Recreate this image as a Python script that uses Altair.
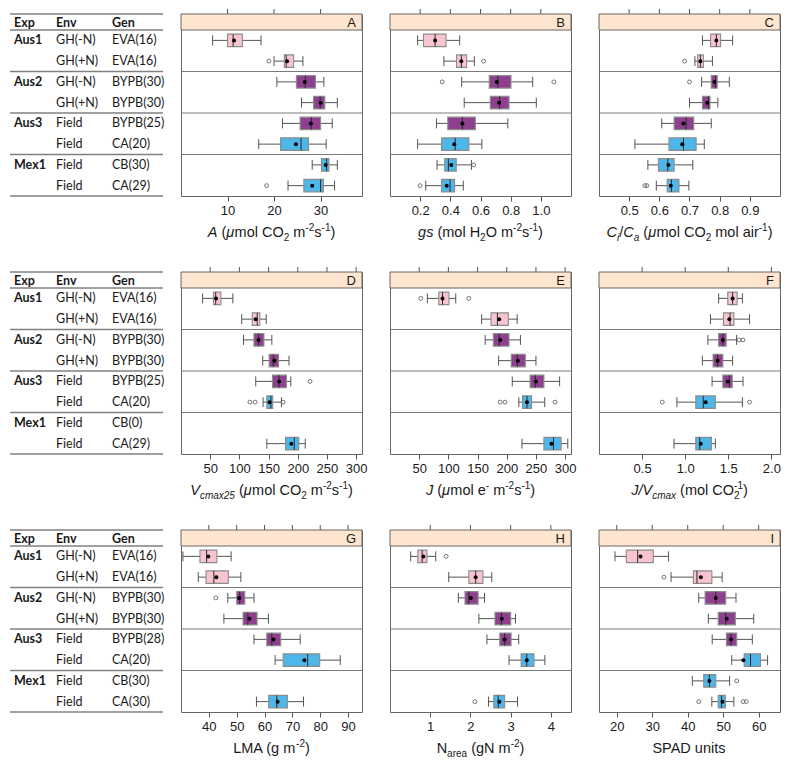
import altair as alt
import pandas as pd

# ---------------- data ----------------
EXP = ["Aus1", "", "Aus2", "", "Aus3", "", "Mex1", ""]
ENV = ["GH(-N)", "GH(+N)", "GH(-N)", "GH(+N)", "Field", "Field", "Field", "Field"]
GEN_1 = ["EVA(16)", "EVA(16)", "BYPB(30)", "BYPB(30)", "BYPB(25)", "CA(20)", "CB(30)", "CA(29)"]
GEN_2 = ["EVA(16)", "EVA(16)", "BYPB(30)", "BYPB(30)", "BYPB(25)", "CA(20)", "CB(0)", "CA(29)"]
GEN_3 = ["EVA(16)", "EVA(16)", "BYPB(30)", "BYPB(30)", "BYPB(28)", "CA(20)", "CB(30)", "CA(30)"]
GENOTYPE = ["EVA", "EVA", "BYPB", "BYPB", "BYPB", "CA", "CB", "CA"]
GROUP_FILL = {"EVA": "#F7C4D0", "BYPB": "#8E3F8E", "CA": "#4DB7EA", "CB": "#4DB7EA"}

# per row: (whisker low, q1, median, q3, whisker high, mean); None = no data
A_STATS = [(6.8, 10.0, 11.2, 13.2, 17.2, 11.4), (20.0, 22.2, 22.6, 24.2, 26.2, 22.8),
           (20.6, 24.8, 26.7, 28.9, 30.7, 26.6), (25.9, 28.5, 29.9, 30.9, 33.6, 30.0),
           (21.8, 25.6, 28.0, 30.0, 32.5, 27.9), (16.7, 21.4, 25.8, 27.4, 31.2, 24.7),
           (28.2, 30.2, 31.3, 31.8, 33.6, 31.1), (23.0, 26.4, 30.0, 30.6, 33.0, 28.2)]
A_OUT = [(1, 18.9), (7, 18.4)]
B_STATS = [(0.183, 0.222, 0.299, 0.372, 0.462, 0.299), (0.357, 0.441, 0.473, 0.508, 0.559, 0.473),
           (0.475, 0.658, 0.715, 0.802, 0.946, 0.708), (0.492, 0.665, 0.727, 0.789, 0.970, 0.723),
           (0.308, 0.383, 0.480, 0.566, 0.781, 0.480), (0.183, 0.342, 0.432, 0.523, 0.609, 0.426),
           (0.312, 0.363, 0.387, 0.439, 0.540, 0.406), (0.237, 0.342, 0.398, 0.428, 0.486, 0.376)]
B_OUT = [(1, 0.621), (2, 0.346), (2, 1.086), (6, 0.555), (7, 0.200)]
C_STATS = [(0.743, 0.770, 0.789, 0.803, 0.843, 0.789), (0.718, 0.727, 0.736, 0.746, 0.776, 0.736),
           (0.740, 0.772, 0.786, 0.792, 0.832, 0.783), (0.700, 0.743, 0.763, 0.768, 0.794, 0.759),
           (0.608, 0.649, 0.689, 0.714, 0.772, 0.680), (0.519, 0.632, 0.680, 0.722, 0.749, 0.676),
           (0.562, 0.597, 0.628, 0.649, 0.711, 0.630), (0.590, 0.626, 0.640, 0.665, 0.698, 0.638)]
C_OUT = [(1, 0.684), (2, 0.700), (7, 0.552), (7, 0.559)]
D_STATS = [(37, 55.6, 59.4, 68.3, 88.9, 60), (104, 122, 130.6, 135, 146, 127.8),
           (107, 125, 133, 142, 155.6, 133), (140, 151, 158, 167, 185, 160),
           (128, 156.7, 168, 180.6, 188, 168), (140.6, 147, 154, 157, 172, 151.7),
           None, (147, 179, 194, 201.7, 212.8, 189)]
D_OUT = [(4, 221), (5, 118), (5, 127), (5, 175)]
E_STATS = [(64, 83.6, 90, 101, 112.6, 90), (157, 173, 184, 202.7, 217.8, 187),
           (163, 177, 187, 203.8, 223.4, 188.7), (186, 207.7, 218, 231.8, 250, 219),
           (209.4, 240, 249, 263.6, 290.5, 250), (220.6, 227, 234.6, 242.4, 265, 234.6),
           None, (226, 263.6, 280, 293, 304.5, 276.5)]
E_OUT = [(0, 52.8), (0, 135), (5, 188.7), (5, 197), (5, 282.7)]
F_STATS = [(1.388, 1.494, 1.55, 1.603, 1.664, 1.55), (1.293, 1.444, 1.52, 1.565, 1.747, 1.512),
           (1.263, 1.388, 1.437, 1.475, 1.596, 1.437), (1.199, 1.324, 1.376, 1.437, 1.55, 1.376),
           (1.312, 1.437, 1.512, 1.546, 1.671, 1.494), (0.904, 1.123, 1.21, 1.35, 1.664, 1.237),
           None, (0.87, 1.123, 1.169, 1.305, 1.35, 1.18)]
F_OUT = [(2, 1.626), (2, 1.671), (5, 0.734), (5, 1.747)]
G_STATS = [(30.7, 36.8, 39.2, 42.9, 48.0, 39.8), (36.2, 39.0, 41.8, 47.0, 51.5, 42.7),
           (46.8, 50.0, 51.1, 52.9, 56.2, 50.9), (45.4, 52.3, 54.0, 57.3, 61.4, 54.6),
           (56.2, 60.8, 62.6, 65.8, 72.8, 63.2), (63.8, 66.7, 75.5, 79.8, 87.2, 74.3),
           None, (57.1, 61.5, 64.4, 68.2, 74.0, 64.7)]
G_OUT = [(2, 42.5)]
H_STATS = [(0.515, 0.693, 0.80, 0.919, 1.137, 0.83), (1.46, 1.96, 2.13, 2.31, 2.53, 2.13),
           (1.70, 1.865, 1.96, 2.19, 2.35, 2.01), (2.21, 2.61, 2.77, 3.0, 3.12, 2.78),
           (2.41, 2.73, 2.85, 3.01, 3.2, 2.85), (2.96, 3.26, 3.4, 3.58, 3.85, 3.4),
           None, (2.45, 2.58, 2.69, 2.85, 3.17, 2.72)]
H_OUT = [(0, 1.396), (7, 2.11)]
I_STATS = [(19.5, 22.7, 25.9, 30.3, 34.6, 26.7), (35.3, 41.6, 42.6, 46.8, 49.7, 43.7),
           (43.1, 44.9, 47.9, 50.7, 53.6, 47.9), (45.8, 48.6, 50.7, 53.4, 58.6, 51.0),
           (46.9, 50.9, 52.2, 53.8, 58.2, 52.2), (52.4, 55.9, 57.7, 60.5, 62.5, 55.7),
           (41.3, 44.5, 46.1, 47.9, 51.8, 46.1), (46.8, 48.6, 49.5, 50.6, 53.0, 49.8)]
I_OUT = [(1, 33.3), (6, 53.8), (7, 43.1), (7, 55.6), (7, 56.5)]

A_TICKS, B_TICKS, C_TICKS = [10, 20, 30], [0.2, 0.4, 0.6, 0.8, 1.0], [0.5, 0.6, 0.7, 0.8, 0.9]
D_TICKS = [50, 100, 150, 200, 250, 300]
E_TICKS = [50, 100, 150, 200, 250, 300]
F_TICKS = [0.5, 1.0, 1.5, 2.0]
G_TICKS, H_TICKS, I_TICKS = [40, 50, 60, 70, 80, 90], [1, 2, 3, 4], [20, 30, 40, 50, 60]

# axis titles as styled segments: n normal, i italic, b subscript, bi italic subscript,
# p superscript, ps superscript stacked over previous subscript
A_TITLE = [("A", "i"), (" (", "n"), ("μ", "i"), ("mol CO", "n"), ("2", "b"), (" m", "n"), ("-2", "p"), ("s", "n"), ("-1", "p"), (")", "n")]
B_TITLE = [("gs", "i"), (" (mol H", "n"), ("2", "b"), ("O m", "n"), ("-2", "p"), ("s", "n"), ("-1", "p"), (")", "n")]
C_TITLE = [("C", "i"), ("i", "bi"), ("/", "n"), ("C", "i"), ("a", "bi"), (" (", "n"), ("μ", "i"), ("mol CO", "n"), ("2", "b"), (" mol air", "n"), ("-1", "p"), (")", "n")]
D_TITLE = [("V", "i"), ("cmax25", "bi"), (" (", "n"), ("μ", "i"), ("mol CO", "n"), ("2", "b"), (" m", "n"), ("-2", "p"), ("s", "n"), ("-1", "p"), (")", "n")]
E_TITLE = [("J", "i"), (" (", "n"), ("μ", "i"), ("mol e", "n"), ("-", "p"), (" m", "n"), ("-2", "p"), ("s", "n"), ("-1", "p"), (")", "n")]
F_TITLE = [("J/V", "i"), ("cmax", "bi"), (" (mol CO", "n"), ("2", "b"), ("-1", "ps"), (")", "n")]
G_TITLE = [("LMA (g m", "n"), ("-2", "p"), (")", "n")]
H_TITLE = [("N", "n"), ("area", "b"), (" (gN m", "n"), ("-2", "p"), (")", "n")]
I_TITLE = [("SPAD units", "n")]

PANELS = [
    [dict(letter="A", stats=A_STATS, out=A_OUT, dom=(0, 38.9), ticks=A_TICKS, fmt="d", title=A_TITLE),
     dict(letter="B", stats=B_STATS, out=B_OUT, dom=(0, 1.2), ticks=B_TICKS, fmt=".1f", title=B_TITLE),
     dict(letter="C", stats=C_STATS, out=C_OUT, dom=(0.4, 1.0), ticks=C_TICKS, fmt=".1f", title=C_TITLE)],
    [dict(letter="D", stats=D_STATS, out=D_OUT, dom=(0, 310), ticks=D_TICKS, fmt="d", title=D_TITLE),
     dict(letter="E", stats=E_STATS, out=E_OUT, dom=(0, 310), ticks=E_TICKS, fmt="d", title=E_TITLE),
     dict(letter="F", stats=F_STATS, out=F_OUT, dom=(0, 2.1), ticks=F_TICKS, fmt=".1f", title=F_TITLE)],
    [dict(letter="G", stats=G_STATS, out=G_OUT, dom=(30, 95), ticks=G_TICKS, fmt="d", title=G_TITLE),
     dict(letter="H", stats=H_STATS, out=H_OUT, dom=(0, 4.5), ticks=H_TICKS, fmt="d", title=H_TITLE),
     dict(letter="I", stats=I_STATS, out=I_OUT, dom=(15, 66), ticks=I_TICKS, fmt="d", title=I_TITLE)],
]
GENS = [GEN_1, GEN_2, GEN_3]

# ---------------- layout / style ----------------
W, H, SH, TW = 181, 166, 16, 143     # panel width, body height, strip height, table width
PH = SH + H                          # full panel height (strip + body)
PSP, RSP = 28, 22
AX_FONT = "Liberation Sans"
TAB_FONT = "Lato"
STRIP_FILL = "#FDE5CF"
BORDER = "#666666"
TS, SS = 14.5, 10
BOX_H, CAP_H = 0.3, 0.24
SEPS = [i - 0.5 for i, e in enumerate(EXP) if e and i > 0]
Y_TOP = -0.5 - 8.0 * SH / H          # strip sits above row 0 inside the same y scale

CW = {'A': 667, ' ': 278, '(': 333, ')': 333, 'μ': 577, 'm': 833, 'o': 556, 'l': 222,
      'C': 722, 'O': 778, '2': 556, '-': 333, '1': 556, 's': 500, 'g': 556, 'H': 722, 'i': 222,
      '/': 278, 'a': 556, 'r': 333, 'V': 667, 'c': 500, 'x': 500, '5': 556, 'J': 500, 'e': 556,
      'L': 556, 'M': 833, 'N': 722, 'S': 667, 'P': 667, 'D': 722, 'u': 556, 'n': 556, 't': 278}
STY = {"n": (TS, "normal", 0), "i": (TS, "italic", 0), "b": (SS, "normal", 4),
       "bi": (SS, "italic", 4), "p": (SS, "normal", -6), "ps": (SS, "normal", -6)}


def text_w(s, size):
    return sum(CW.get(c, 556) for c in s) * size / 1000.0


def yscale():
    return alt.Scale(domain=[Y_TOP, 7.5], reverse=True, nice=False, zero=False)


def title_layers(segs, d0, d1, X):
    placed = []
    x = prev_x = prev_w = 0.0
    for text, st in segs:
        size = STY[st][0]
        w = text_w(text, size)
        lead = text_w(text[:len(text) - len(text.lstrip(" "))], size)
        shown = text.strip(" ")
        if st == "ps":
            placed.append((shown, st, prev_x))
            x = prev_x + max(prev_w, w)
        else:
            placed.append((shown, st, x + lead))
            prev_x, prev_w = x, w
            x += w
    off = (W - x) / 2.0
    layers = []
    for st in dict.fromkeys(s for _, s, _ in placed):
        rows = [{"t": t, "xd": d0 + (px + off) * (d1 - d0) / W} for t, s, px in placed if s == st]
        size, fstyle, dy = STY[st]
        layers.append(
            alt.Chart(pd.DataFrame(rows)).mark_text(
                align="left", baseline="alphabetic", font=AX_FONT, fontSize=size,
                fontStyle=fstyle, dy=dy, color="#1a1a1a"
            ).encode(x=X("xd"), y=alt.value(PH + 41), text="t:N")
        )
    return layers


def panel(p):
    d0, d1 = p["dom"]
    xs = alt.Scale(domain=[d0, d1], nice=False, zero=False)
    ys = yscale()
    rows = []
    for i, s in enumerate(p["stats"]):
        if s is None:
            continue
        lo, q1, med, q3, hi, mean = s
        rows.append(dict(idx=i, lo=lo, q1=q1, med=med, q3=q3, hi=hi, mean=mean,
                         fill=GROUP_FILL[GENOTYPE[i]], y0=i - BOX_H, y1=i + BOX_H,
                         c0=i - CAP_H, c1=i + CAP_H))
    df = pd.DataFrame(rows)
    odf = pd.DataFrame(p["out"], columns=["idx", "v"])
    sdf = pd.DataFrame({"s": SEPS})
    tdf = pd.DataFrame({"v": p["ticks"]})

    axis = alt.Axis(values=p["ticks"], format=p["fmt"], labelFontSize=13, labelFont=AX_FONT,
                    labelColor="#1a1a1a", tickColor="#555555", tickSize=5, labelPadding=3,
                    domain=False, grid=False, title=None, labelFlush=False, labelOverlap=False)

    def X(f):
        return alt.X(f, type="quantitative", scale=xs, axis=axis)

    def Y(f):
        return alt.Y(f, type="quantitative", scale=ys, axis=None)

    one = pd.DataFrame({"t": [p["letter"]]})
    strip = alt.Chart(one).mark_rect(fill=STRIP_FILL, stroke=BORDER, strokeWidth=1).encode(
        x=alt.value(0), x2=alt.value(W), y=alt.value(0), y2=alt.value(SH))
    letter = alt.Chart(one).mark_text(
        align="right", baseline="middle", fontSize=13, font=AX_FONT, color="#1a1a1a"
    ).encode(x=alt.value(W - 6), y=alt.value(SH / 2 + 0.5), text="t:N")
    top_ticks = alt.Chart(tdf).mark_rule(color="#555555", strokeWidth=1).encode(
        x=X("v"), y=alt.value(-5), y2=alt.value(0))

    seps = alt.Chart(sdf).mark_rule(color="#7a7a7a", strokeWidth=1).encode(y=Y("s"))
    whisk = alt.Chart(df).mark_rule(color="#555555", strokeWidth=1).encode(
        x=X("lo"), x2=alt.X2("hi"), y=Y("idx"))
    cap_lo = alt.Chart(df).mark_rule(color="#555555", strokeWidth=1).encode(
        x=X("lo"), y=Y("c0"), y2=alt.Y2("c1"))
    cap_hi = alt.Chart(df).mark_rule(color="#555555", strokeWidth=1).encode(
        x=X("hi"), y=Y("c0"), y2=alt.Y2("c1"))
    box = alt.Chart(df).mark_rect(stroke="#8c8c8c", strokeWidth=1.1).encode(
        x=X("q1"), x2=alt.X2("q3"), y=Y("y0"), y2=alt.Y2("y1"),
        fill=alt.Fill("fill:N", scale=None))
    med = alt.Chart(df).mark_rule(color="#2b2b2b", strokeWidth=1).encode(
        x=X("med"), y=Y("y0"), y2=alt.Y2("y1"))
    mean = alt.Chart(df).mark_point(filled=True, color="black", size=16, opacity=1).encode(
        x=X("mean"), y=Y("idx"))
    outl = alt.Chart(odf).mark_point(filled=False, color="#666666", size=15, strokeWidth=0.9,
                                     opacity=1).encode(x=X("v"), y=Y("idx"))
    layers = [top_ticks, strip, letter, seps, whisk, cap_lo, cap_hi, box, med, mean, outl] \
        + title_layers(p["title"], d0, d1, X)
    return alt.layer(*layers).properties(width=W, height=PH)


COLS = [("Exp", 4), ("Env", 46), ("Gen", 102)]
TAB_LINE = "#808080"
TAB_LINE_END = TW + 10


def table(gen):
    ys = yscale()
    layers = []
    one = pd.DataFrame({"a": [0]})
    for yv in (0, SH):
        layers.append(alt.Chart(one).mark_rule(color=TAB_LINE, strokeWidth=1.4).encode(
            x=alt.value(0), x2=alt.value(TAB_LINE_END), y=alt.value(yv)))
    for name, xp in COLS:
        layers.append(alt.Chart(pd.DataFrame({"t": [name]})).mark_text(
            align="left", baseline="middle", font=TAB_FONT, fontSize=12.5, fontWeight="bold",
            color="#1a1a1a").encode(x=alt.value(xp), y=alt.value(SH / 2 + 0.5), text="t:N"))
    df = pd.DataFrame({"idx": list(range(8)), "exp": EXP, "env": ENV, "gen": gen})
    sdf = pd.DataFrame({"s": SEPS + [7.5]})
    layers.append(alt.Chart(sdf).mark_rule(color=TAB_LINE, strokeWidth=1.4).encode(
        x=alt.value(0), x2=alt.value(TAB_LINE_END), y=alt.Y("s:Q", scale=ys, axis=None)))
    for (name, xp), field in zip(COLS, ["exp", "env", "gen"]):
        sub = df[df[field] != ""]
        layers.append(alt.Chart(sub).mark_text(
            align="left", baseline="middle", font=TAB_FONT, fontSize=12.5,
            fontWeight="bold" if field == "exp" else "normal", color="#1a1a1a"
        ).encode(x=alt.value(xp), y=alt.Y("idx:Q", scale=ys, axis=None), text=f"{field}:N"))
    return alt.layer(*layers).properties(width=TW, height=PH,
                                         view=alt.ViewBackground(stroke="transparent"))


def make_row(gen, panels):
    return alt.hconcat(table(gen), *[panel(p) for p in panels], spacing=PSP, bounds="flush")


chart = alt.vconcat(*[make_row(g, p) for g, p in zip(GENS, PANELS)], spacing=RSP) \
    .properties(padding=0) \
    .configure(font=AX_FONT) \
    .configure_view(stroke=BORDER, strokeWidth=1)

chart.save("out.html", embed_options={"renderer": "svg", "actions": False})
